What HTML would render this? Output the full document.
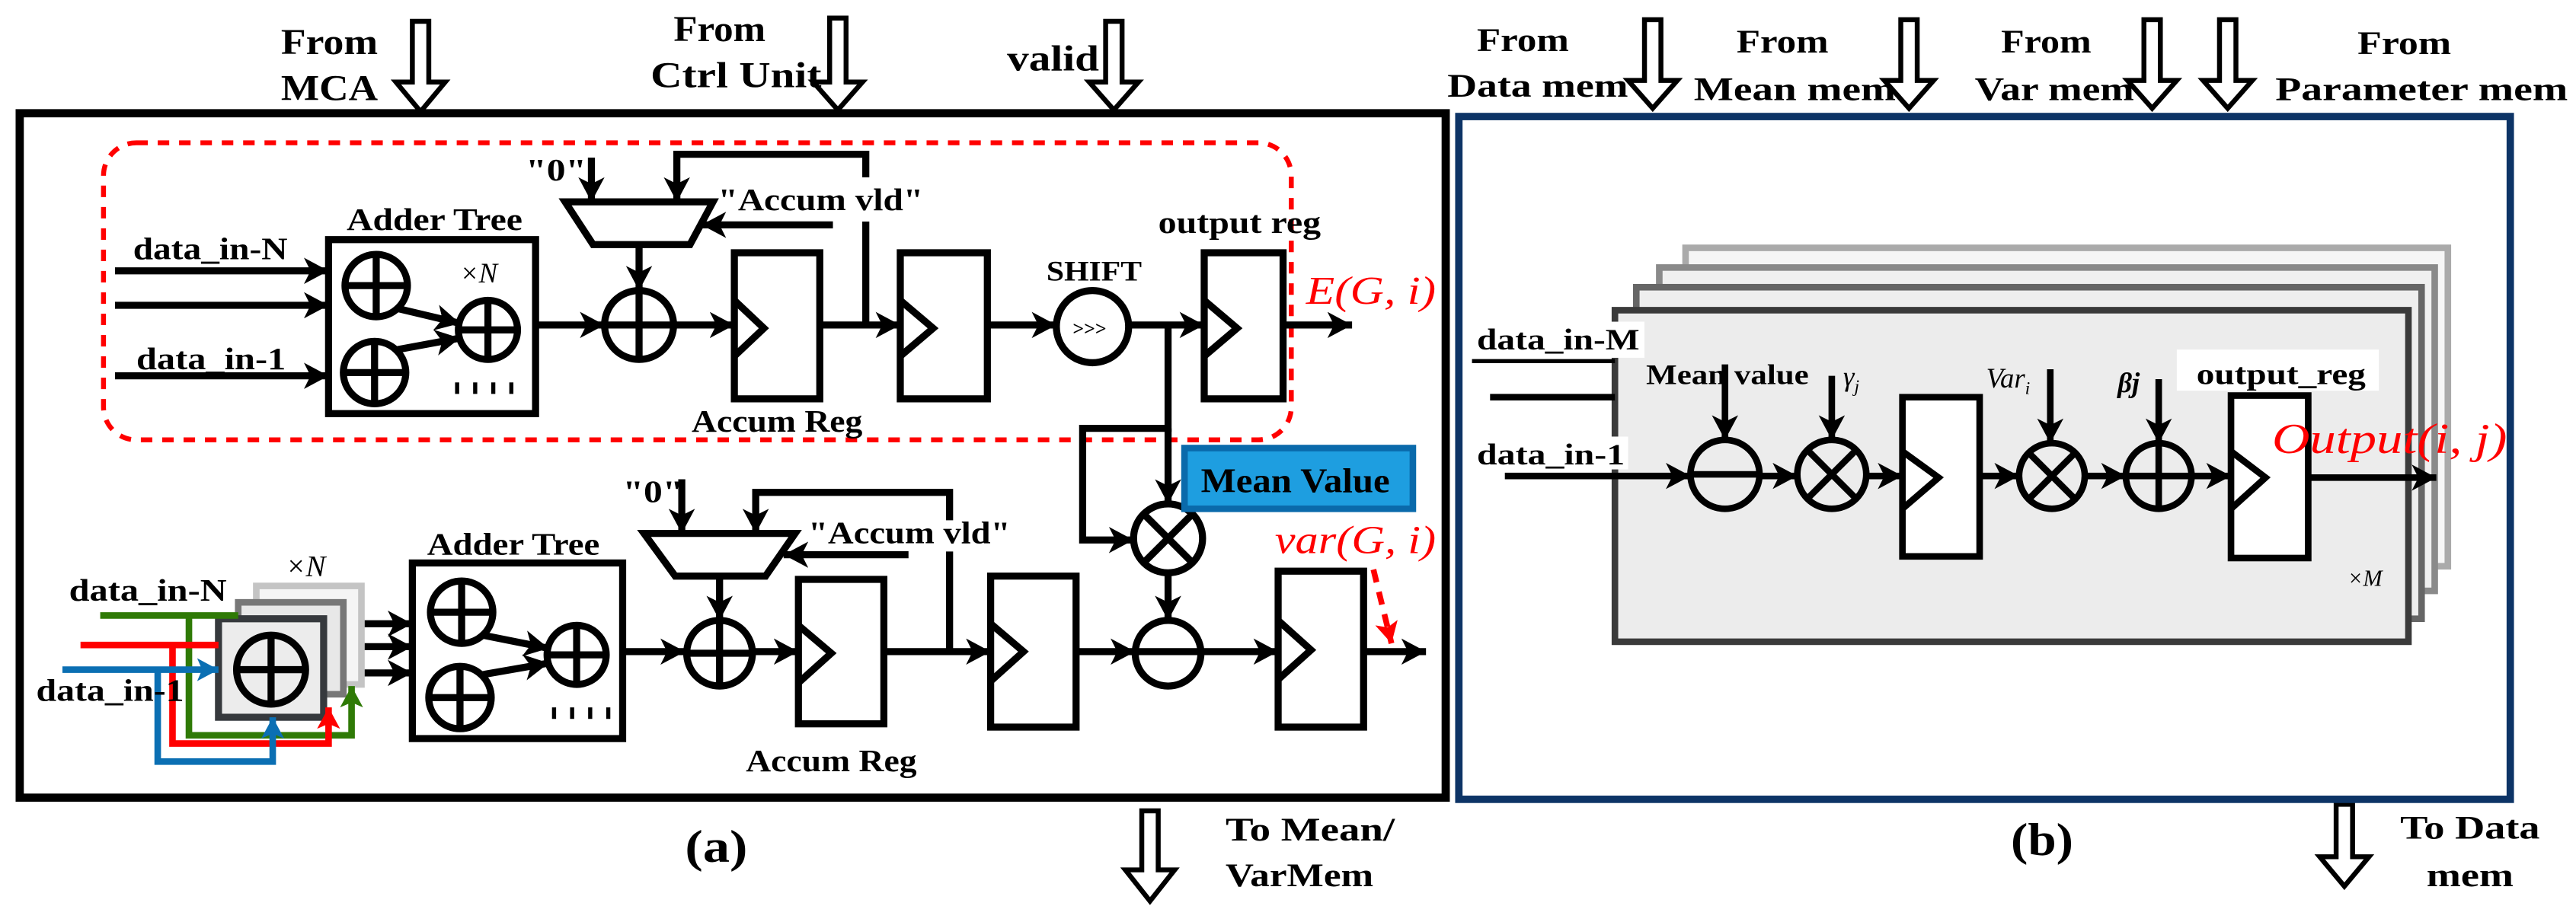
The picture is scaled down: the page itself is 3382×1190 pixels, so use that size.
<!DOCTYPE html>
<html><head><meta charset="utf-8"><style>
html,body{margin:0;padding:0;background:#fff;}
svg{display:block;}
svg text{font-family:"Liberation Serif","Times New Roman",serif;}
</style></head><body>
<svg width="3382" height="1190" viewBox="0 0 1568 552" preserveAspectRatio="none" xmlns="http://www.w3.org/2000/svg" font-family="Liberation Serif, serif">
<defs>
<marker id="ah" markerUnits="userSpaceOnUse" markerWidth="16" markerHeight="16" refX="15" refY="8" orient="auto"><path d="M0,0 L15,8 L0,16 L4,8 Z" fill="#000"/></marker>
<marker id="ag" markerUnits="userSpaceOnUse" markerWidth="14" markerHeight="14" refX="13" refY="7" orient="auto"><path d="M0,0 L13,7 L0,14 L3,7 Z" fill="#2f7a06"/></marker>
<marker id="ar" markerUnits="userSpaceOnUse" markerWidth="14" markerHeight="14" refX="13" refY="7" orient="auto"><path d="M0,0 L13,7 L0,14 L3,7 Z" fill="#ff0000"/></marker>
<marker id="ab" markerUnits="userSpaceOnUse" markerWidth="14" markerHeight="14" refX="13" refY="7" orient="auto"><path d="M0,0 L13,7 L0,14 L3,7 Z" fill="#0b6fb3"/></marker>
<marker id="ared" markerUnits="userSpaceOnUse" markerWidth="14" markerHeight="14" refX="13" refY="7" orient="auto"><path d="M0,0 L13,7 L0,14 L3,7 Z" fill="#ff0000"/></marker>
</defs>

<g fill="#fff" stroke="#000" stroke-width="3">
<path d="M251,13 L261,13 L261,50 L271,50 L256,68 L241,50 L251,50 Z"/>
<path d="M505,11 L515,11 L515,50 L525,50 L510,67 L495,50 L505,50 Z"/>
<path d="M673,13 L683,13 L683,50 L693,50 L678,67 L663,50 L673,50 Z"/>
<path d="M1001,12 L1011,12 L1011,49 L1021,49 L1006,66 L991,49 L1001,49 Z"/>
<path d="M1157,12 L1167,12 L1167,49 L1177,49 L1162,66 L1147,49 L1157,49 Z"/>
<path d="M1305,12 L1315,12 L1315,49 L1325,49 L1310,66 L1295,49 L1305,49 Z"/>
<path d="M1351,12 L1361,12 L1361,49 L1371,49 L1356,66 L1341,49 L1351,49 Z"/>
<path d="M695,494 L705,494 L705,530 L715,530 L700,549 L685,530 L695,530 Z"/>
<path d="M1422,490 L1432,490 L1432,522 L1442,522 L1427,540 L1412,522 L1422,522 Z"/>
</g>

<g font-size="22" font-weight="bold" font-family="Liberation Serif, serif">
<text x="171" y="33" textLength="59" lengthAdjust="spacingAndGlyphs">From</text>
<text x="171" y="61" textLength="59" lengthAdjust="spacingAndGlyphs">MCA</text>
<text x="410" y="25" textLength="56" lengthAdjust="spacingAndGlyphs">From</text>
<text x="396" y="53" textLength="104" lengthAdjust="spacingAndGlyphs">Ctrl Unit</text>
<text x="613" y="43" textLength="56" lengthAdjust="spacingAndGlyphs">valid</text>
<text x="899" y="31" textLength="56" font-size="20" lengthAdjust="spacingAndGlyphs">From</text>
<text x="881" y="59" textLength="110" font-size="20" lengthAdjust="spacingAndGlyphs">Data mem</text>
<text x="1057" y="32" textLength="56" font-size="20" lengthAdjust="spacingAndGlyphs">From</text>
<text x="1031" y="61" textLength="123" font-size="20" lengthAdjust="spacingAndGlyphs">Mean mem</text>
<text x="1218" y="32" textLength="55" font-size="20" lengthAdjust="spacingAndGlyphs">From</text>
<text x="1202" y="61" textLength="97" font-size="20" lengthAdjust="spacingAndGlyphs">Var mem</text>
<text x="1435" y="33" textLength="57" font-size="20" lengthAdjust="spacingAndGlyphs">From</text>
<text x="1385" y="61" textLength="178" font-size="20" lengthAdjust="spacingAndGlyphs">Parameter mem</text>
<text x="746" y="512" textLength="103" font-size="20" lengthAdjust="spacingAndGlyphs">To Mean/</text>
<text x="746" y="540" textLength="90" font-size="20" lengthAdjust="spacingAndGlyphs">VarMem</text>
<text x="1461" y="511" textLength="85" font-size="20" lengthAdjust="spacingAndGlyphs">To Data</text>
<text x="1477" y="540" textLength="53" font-size="20" lengthAdjust="spacingAndGlyphs">mem</text>
<text x="417" y="525" textLength="38" font-size="28" lengthAdjust="spacingAndGlyphs">(a)</text>
<text x="1224" y="521" textLength="38" font-size="28" lengthAdjust="spacingAndGlyphs">(b)</text>
</g>

<rect x="12" y="69" width="868" height="417" fill="none" stroke="#000" stroke-width="5"/>
<rect x="63" y="87" width="723" height="181" rx="20" fill="none" stroke="#ff0000" stroke-width="3" stroke-dasharray="7,6"/>

<g fill="none" stroke="#000" stroke-width="4.3">
<line x1="70" y1="165" x2="200" y2="165" marker-end="url(#ah)"/>
<line x1="70" y1="186" x2="200" y2="186" marker-end="url(#ah)"/>
<line x1="70" y1="229" x2="200" y2="229" marker-end="url(#ah)"/>
<rect x="200" y="146" width="126" height="106"/>
<circle cx="229" cy="174" r="19"/><line x1="210" y1="174" x2="248" y2="174"/><line x1="229" y1="155" x2="229" y2="193"/>
<circle cx="228" cy="227" r="19"/><line x1="209" y1="227" x2="247" y2="227"/><line x1="228" y1="208" x2="228" y2="246"/>
<circle cx="297" cy="201" r="18"/><line x1="279" y1="201" x2="315" y2="201"/><line x1="297" y1="183" x2="297" y2="219"/>
<line x1="242" y1="188" x2="280" y2="197" marker-end="url(#ah)"/>
<line x1="242" y1="213" x2="280" y2="206" marker-end="url(#ah)"/>
<line x1="326" y1="198" x2="368" y2="198" marker-end="url(#ah)"/>
<circle cx="389" cy="198" r="21"/><line x1="368" y1="198" x2="410" y2="198"/><line x1="389" y1="177" x2="389" y2="219"/>
<polygon points="344,123 434,123 420,149 361,149" fill="#fff"/>
<line x1="360" y1="96" x2="360" y2="123" marker-end="url(#ah)"/>
<polyline points="527,108 527,94 412,94 412,123" marker-end="url(#ah)"/>
<line x1="527" y1="135" x2="527" y2="198"/>
<line x1="507" y1="137" x2="427" y2="137" marker-end="url(#ah)"/>
<line x1="389" y1="149" x2="389" y2="177" marker-end="url(#ah)"/>
<line x1="410" y1="198" x2="447" y2="198" marker-end="url(#ah)"/>
<rect x="447" y="154" width="52" height="89"/><polyline points="447,183 465,200 447,217"/>
<line x1="499" y1="198" x2="548" y2="198" marker-end="url(#ah)"/>
<rect x="548" y="154" width="53" height="89"/><polyline points="548,183 568,200 548,217"/>
<line x1="601" y1="198" x2="643" y2="198" marker-end="url(#ah)"/>
<circle cx="665" cy="199" r="22"/>
<line x1="687" y1="198" x2="733" y2="198" marker-end="url(#ah)"/>
<rect x="733" y="154" width="48" height="89"/><polyline points="733,183 753,200 733,217"/>
<line x1="781" y1="198" x2="823" y2="198" marker-end="url(#ah)"/>
<polyline points="711,198 711,261 659,261 659,329 690,329" marker-end="url(#ah)"/>
<line x1="711" y1="261" x2="711" y2="307" marker-end="url(#ah)"/>
<circle cx="711" cy="328" r="21"/><line x1="696" y1="313" x2="726" y2="343"/><line x1="726" y1="313" x2="696" y2="343"/>
<line x1="711" y1="349" x2="711" y2="378" marker-end="url(#ah)"/>
<circle cx="711" cy="398" r="20"/><line x1="691" y1="397" x2="731" y2="397"/>

<rect x="251" y="343" width="128" height="107"/>
<circle cx="281" cy="373" r="19"/><line x1="262" y1="373" x2="300" y2="373"/><line x1="281" y1="354" x2="281" y2="392"/>
<circle cx="280" cy="425" r="19"/><line x1="261" y1="425" x2="299" y2="425"/><line x1="280" y1="406" x2="280" y2="444"/>
<circle cx="351" cy="399" r="18"/><line x1="333" y1="399" x2="369" y2="399"/><line x1="351" y1="381" x2="351" y2="417"/>
<line x1="294" y1="387" x2="334" y2="395" marker-end="url(#ah)"/>
<line x1="294" y1="411" x2="334" y2="404" marker-end="url(#ah)"/>
<line x1="379" y1="397" x2="417" y2="397" marker-end="url(#ah)"/>
<circle cx="438" cy="398" r="20"/><line x1="418" y1="398" x2="458" y2="398"/><line x1="438" y1="378" x2="438" y2="418"/>
<polygon points="392,325 484,325 466,351 411,351" fill="#fff"/>
<line x1="415" y1="292" x2="415" y2="325" marker-end="url(#ah)"/>
<polyline points="578,317 578,300 460,300 460,325" marker-end="url(#ah)"/>
<line x1="578" y1="336" x2="578" y2="397"/>
<line x1="553" y1="338" x2="477" y2="338" marker-end="url(#ah)"/>
<line x1="438" y1="351" x2="438" y2="378" marker-end="url(#ah)"/>
<line x1="458" y1="397" x2="486" y2="397" marker-end="url(#ah)"/>
<rect x="486" y="353" width="52" height="88"/><polyline points="486,381 506,398 486,416"/>
<line x1="538" y1="397" x2="603" y2="397" marker-end="url(#ah)"/>
<rect x="603" y="351" width="52" height="92"/><polyline points="603,380 623,397 603,415"/>
<line x1="655" y1="397" x2="691" y2="397" marker-end="url(#ah)"/>
<line x1="731" y1="397" x2="778" y2="397" marker-end="url(#ah)"/>
<rect x="778" y="348" width="52" height="95"/><polyline points="778,378 798,396 778,414"/>
<line x1="830" y1="397" x2="868" y2="397" marker-end="url(#ah)"/>
<line x1="219" y1="380" x2="251" y2="380" marker-end="url(#ah)"/>
<line x1="208" y1="394" x2="251" y2="394" marker-end="url(#ah)"/>
<line x1="197" y1="410" x2="251" y2="410" marker-end="url(#ah)"/>
</g>
<g fill="#000"><rect x="277" y="233" width="2.5" height="7"/><rect x="288" y="233" width="2.5" height="7"/><rect x="299" y="233" width="2.5" height="7"/><rect x="310" y="233" width="2.5" height="7"/>
<rect x="336" y="431" width="2.5" height="7"/><rect x="347" y="431" width="2.5" height="7"/><rect x="358" y="431" width="2.5" height="7"/><rect x="369" y="431" width="2.5" height="7"/></g>

<rect x="156" y="357" width="64" height="60" fill="#f5f5f5" stroke="#c4c4c4" stroke-width="4"/>
<rect x="145" y="367" width="64" height="56" fill="#e8e8e8" stroke="#777" stroke-width="4"/>
<rect x="133" y="377" width="64" height="60" fill="#ececec" stroke="#36393d" stroke-width="4.3"/>
<g fill="none" stroke="#000" stroke-width="4.3"><circle cx="165" cy="408" r="21"/><line x1="144" y1="408" x2="186" y2="408"/><line x1="165" y1="387" x2="165" y2="429"/></g>
<g fill="none" stroke-width="4">
<line x1="61" y1="375" x2="145" y2="375" stroke="#2f7a06"/>
<polyline points="115,375 115,448 214,448 214,418" stroke="#2f7a06" marker-end="url(#ag)"/>
<line x1="49" y1="393" x2="133" y2="393" stroke="#ff0000"/>
<polyline points="105,393 105,453 200,453 200,431" stroke="#ff0000" marker-end="url(#ar)"/>
<line x1="38" y1="408" x2="133" y2="408" stroke="#0b6fb3" marker-end="url(#ab)"/>
<polyline points="96,408 96,464 166,464 166,437" stroke="#0b6fb3" marker-end="url(#ab)"/>
</g>

<rect x="721" y="273" width="139" height="37" fill="#1e9ee0" stroke="#0a6aab" stroke-width="4"/>
<text x="731" y="300" font-size="21" font-weight="bold" textLength="115" lengthAdjust="spacingAndGlyphs">Mean Value</text>

<line x1="836" y1="347" x2="847" y2="392" stroke="#ff0000" stroke-width="3.5" stroke-dasharray="8,6" marker-end="url(#ared)"/>

<g font-weight="bold" font-size="19">
<text x="81" y="158" textLength="94" lengthAdjust="spacingAndGlyphs">data_in-N</text>
<text x="83" y="225" textLength="91" lengthAdjust="spacingAndGlyphs">data_in-1</text>
<text x="211" y="140" textLength="107" lengthAdjust="spacingAndGlyphs">Adder Tree</text>
<text x="320" y="110" textLength="37" lengthAdjust="spacingAndGlyphs">"0"</text>
<text x="437" y="128" textLength="125" lengthAdjust="spacingAndGlyphs">"Accum vld"</text>
<text x="705" y="142" textLength="99" lengthAdjust="spacingAndGlyphs">output reg</text>
<text x="637" y="171" font-size="17" textLength="58" lengthAdjust="spacingAndGlyphs">SHIFT</text>
<text x="421" y="263" textLength="104" lengthAdjust="spacingAndGlyphs">Accum Reg</text>
<text x="42" y="366" textLength="96" lengthAdjust="spacingAndGlyphs">data_in-N</text>
<text x="22" y="427" textLength="90" lengthAdjust="spacingAndGlyphs">data_in-1</text>
<text x="260" y="338" textLength="105" lengthAdjust="spacingAndGlyphs">Adder Tree</text>
<text x="379" y="306" textLength="37" lengthAdjust="spacingAndGlyphs">"0"</text>
<text x="492" y="331" textLength="123" lengthAdjust="spacingAndGlyphs">"Accum vld"</text>
<text x="454" y="470" textLength="104" lengthAdjust="spacingAndGlyphs">Accum Reg</text>
</g>
<text x="653" y="204" font-size="12" font-weight="bold">&gt;&gt;&gt;</text>
<text x="280" y="172" font-size="17" font-style="italic">×N</text>
<text x="174" y="351" font-size="18" font-style="italic">×N</text>
<text x="795" y="185" font-size="24" font-style="italic" fill="#ff0000" textLength="79" lengthAdjust="spacingAndGlyphs">E(G, i)</text>
<text x="776" y="337" font-size="24" font-style="italic" fill="#ff0000" textLength="98" lengthAdjust="spacingAndGlyphs">var(G, i)</text>

<rect x="888" y="71" width="640" height="416" fill="none" stroke="#0d3466" stroke-width="4.5"/>
<rect x="1026" y="151" width="464" height="194" fill="#f6f6f6" stroke="#aaaaaa" stroke-width="4"/>
<rect x="1010" y="163" width="472" height="197" fill="#f0f0f0" stroke="#8a8a8a" stroke-width="4"/>
<rect x="996" y="175" width="478" height="202" fill="#eeeeee" stroke="#666" stroke-width="4"/>
<rect x="983" y="189" width="483" height="202" fill="#ececec" stroke="#3a3a3a" stroke-width="4"/>
<rect x="897" y="196" width="104" height="22" fill="#fff"/>
<rect x="897" y="266" width="94" height="20" fill="#fff"/>
<rect x="1325" y="213" width="123" height="25" fill="#fff"/>
<g fill="none" stroke="#000" stroke-width="4">
<line x1="896" y1="220" x2="983" y2="220" stroke-width="2.5"/>
<line x1="907" y1="242" x2="983" y2="242"/>
<line x1="916" y1="290" x2="1029" y2="290" marker-end="url(#ah)"/>
<circle cx="1050" cy="289" r="21"/><line x1="1029" y1="289" x2="1071" y2="289"/>
<line x1="1050" y1="222" x2="1050" y2="268" marker-end="url(#ah)"/>
<line x1="1071" y1="290" x2="1094" y2="290" marker-end="url(#ah)"/>
<circle cx="1115" cy="289" r="21"/><line x1="1100" y1="274" x2="1130" y2="304"/><line x1="1130" y1="274" x2="1100" y2="304"/>
<line x1="1115" y1="229" x2="1115" y2="268" marker-end="url(#ah)"/>
<line x1="1136" y1="290" x2="1158" y2="290" marker-end="url(#ah)"/>
<rect x="1158" y="242" width="47" height="97" fill="#fff"/><polyline points="1158,275 1180,291 1158,310"/>
<line x1="1205" y1="290" x2="1229" y2="290" marker-end="url(#ah)"/>
<circle cx="1249" cy="290" r="20"/><line x1="1235" y1="276" x2="1263" y2="304"/><line x1="1263" y1="276" x2="1235" y2="304"/>
<line x1="1248" y1="225" x2="1248" y2="270" marker-end="url(#ah)"/>
<line x1="1269" y1="290" x2="1294" y2="290" marker-end="url(#ah)"/>
<circle cx="1314" cy="290" r="20"/><line x1="1294" y1="290" x2="1334" y2="290"/><line x1="1314" y1="270" x2="1314" y2="310"/>
<line x1="1314" y1="231" x2="1314" y2="270" marker-end="url(#ah)"/>
<line x1="1334" y1="290" x2="1358" y2="290" marker-end="url(#ah)"/>
<rect x="1358" y="241" width="47" height="99" fill="#fff"/><polyline points="1358,275 1379,291 1358,310"/>
<line x1="1405" y1="291" x2="1483" y2="291" marker-end="url(#ah)"/>
</g>
<g font-weight="bold" font-size="18">
<text x="899" y="213" textLength="99" lengthAdjust="spacingAndGlyphs">data_in-M</text>
<text x="899" y="283" textLength="90" lengthAdjust="spacingAndGlyphs">data_in-1</text>
<text x="1002" y="234" font-size="17" textLength="99" lengthAdjust="spacingAndGlyphs">Mean value</text>
<text x="1337" y="234" font-size="18" textLength="103" lengthAdjust="spacingAndGlyphs">output_reg</text>
</g>
<g font-style="italic" font-size="17">
<text x="1122" y="235">γ<tspan font-size="11" dy="4">j</tspan></text>
<text x="1209" y="236">Var<tspan font-size="11" dy="4">i</tspan></text>
<text x="1289" y="239" font-weight="bold">βj</text>
<text x="1429" y="357" font-size="14">×M</text>
</g>
<text x="1383" y="276" font-size="26" font-style="italic" fill="#ff0000" textLength="143" lengthAdjust="spacingAndGlyphs">Output(i, j)</text>
</svg>
</body></html>
